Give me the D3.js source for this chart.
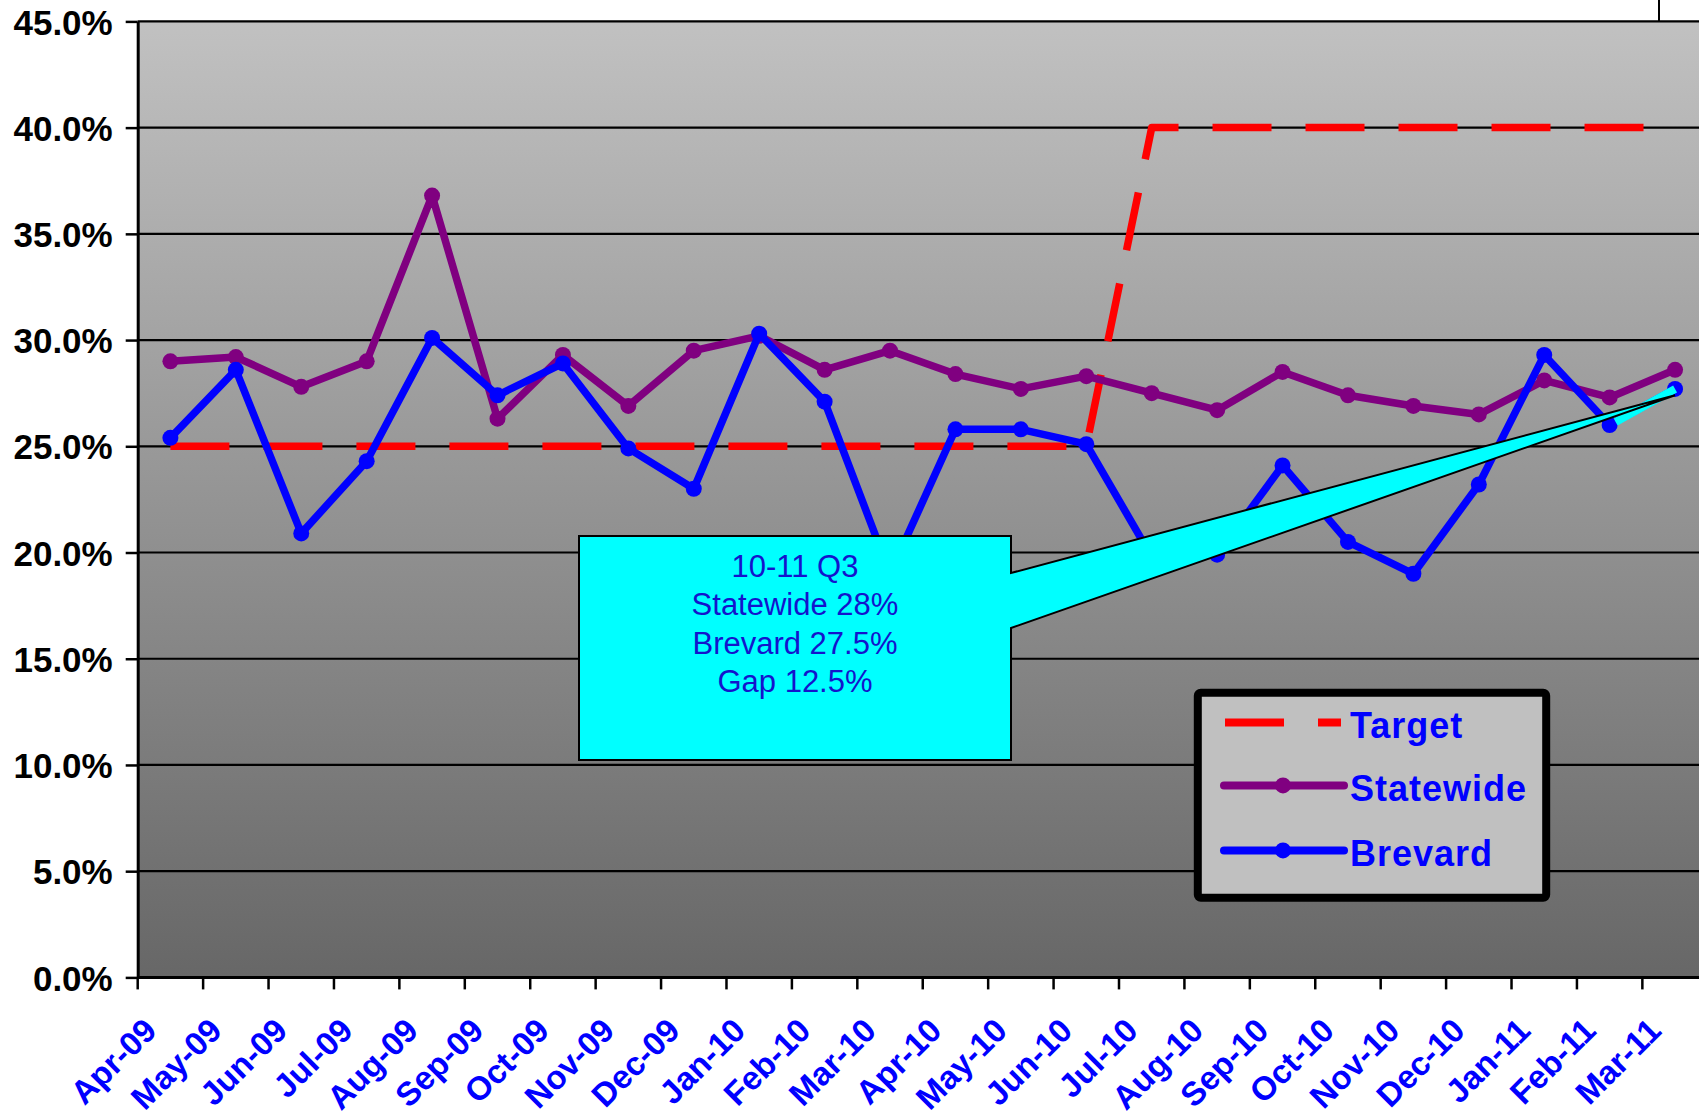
<!DOCTYPE html>
<html>
<head>
<meta charset="utf-8">
<script src="https://cdn.jsdelivr.net/npm/d3@7"></script>
<style>
  html, body { margin: 0; padding: 0; background: #fff; overflow: hidden; }
  #chart { width: 1699px; height: 1116px; }
  text { font-family: "Liberation Sans", Arial, sans-serif; }
</style>
</head>
<body>
<div id="chart"></div>
<script>
// --- data (percent values) ---
const months = ["Apr-09", "May-09", "Jun-09", "Jul-09", "Aug-09", "Sep-09", "Oct-09", "Nov-09",
  "Dec-09", "Jan-10", "Feb-10", "Mar-10", "Apr-10", "May-10", "Jun-10", "Jul-10",
  "Aug-10", "Sep-10", "Oct-10", "Nov-10", "Dec-10", "Jan-11", "Feb-11", "Mar-11"];

const target = [25, 25, 25, 25, 25, 25, 25, 25, 25, 25, 25, 25, 25, 25, 25,
  40, 40, 40, 40, 40, 40, 40, 40, 40];

const statewide = [29.0, 29.2, 27.8, 29.0, 36.8, 26.3, 29.3, 26.9, 29.5, 30.2, 28.6, 29.5,
  28.4, 27.7, 28.3, 27.5, 26.7, 28.5, 27.4, 26.9, 26.5, 28.1, 27.3, 28.6];

const brevard = [25.4, 28.6, 20.9, 24.3, 30.1, 27.4, 28.9, 24.9, 23.0, 30.3, 27.1, 19.0,
  25.8, 25.8, 25.1, 19.8, 19.9, 24.1, 20.5, 19.0, 23.2, 29.3, 26.0, 27.7];

const yTicks = [0, 5, 10, 15, 20, 25, 30, 35, 40, 45];

const calloutLines = ["10-11 Q3", "Statewide 28%", "Brevard 27.5%", "Gap 12.5%"];
const calloutTip = { month: "Mar-11", value: 27.4 };

const seriesList = [
  { name: "Target", values: target, color: "#ff0000", dash: "59,34", marker: false },
  { name: "Statewide", values: statewide, color: "#800080", dash: null, marker: true },
  { name: "Brevard", values: brevard, color: "#0000ff", dash: null, marker: true }
];

// --- layout ---
const W = 1699, H = 1116;
const m = { left: 137.7, top: 21.4 };
const step = 65.42;                 // width of one month band
const iW = step * months.length;    // plot runs past the right edge of the picture
const iH = 956;

const svg = d3.select("#chart").append("svg")
  .attr("width", W)
  .attr("height", H);

const defs = svg.append("defs");
const grad = defs.append("linearGradient")
  .attr("id", "plotBg")
  .attr("x1", 0).attr("y1", 0).attr("x2", 0).attr("y2", 1);
grad.append("stop").attr("offset", "0%").attr("stop-color", "#c1c1c1");
grad.append("stop").attr("offset", "100%").attr("stop-color", "#676767");

// stray frame line above the plot (part of the original picture)
svg.append("line")
  .attr("x1", 1659).attr("x2", 1659)
  .attr("y1", 0).attr("y2", m.top)
  .attr("stroke", "#000").attr("stroke-width", 2);

const g = svg.append("g").attr("transform", `translate(${m.left},${m.top})`);

const x = d3.scaleBand().domain(months).range([0, iW]);
const y = d3.scaleLinear().domain([0, 45]).range([iH, 0]);
const cx = d => x(d) + x.bandwidth() / 2;

g.append("rect")
  .attr("width", iW).attr("height", iH)
  .attr("fill", "url(#plotBg)");

// gridlines
g.append("g").selectAll("line")
  .data(yTicks.filter(d => d > 0))
  .join("line")
  .attr("x1", 0).attr("x2", iW)
  .attr("y1", d => y(d)).attr("y2", d => y(d))
  .attr("stroke", "#000")
  .attr("stroke-width", 2.2);

// y axis
const yAxis = d3.axisLeft(y)
  .tickValues(yTicks)
  .tickSize(12)
  .tickSizeOuter(0)
  .tickPadding(13)
  .tickFormat(d => d.toFixed(1) + "%");

const yAxisG = g.append("g").call(yAxis);
yAxisG.select(".domain").attr("stroke", "#000").attr("stroke-width", 3);
yAxisG.selectAll(".tick line").attr("stroke", "#000").attr("stroke-width", 2.5);
yAxisG.selectAll(".tick text")
  .attr("fill", "#000")
  .attr("dy", "0.36em")
  .style("font-family", "'Liberation Sans', Arial, sans-serif")
  .style("font-size", "35px")
  .style("font-weight", "bold");

// x axis: baseline, ticks on band edges, rotated labels
g.append("line")
  .attr("x1", 0).attr("x2", iW)
  .attr("y1", iH).attr("y2", iH)
  .attr("stroke", "#000").attr("stroke-width", 3);

g.append("g").selectAll("line")
  .data(months)
  .join("line")
  .attr("x1", d => x(d)).attr("x2", d => x(d))
  .attr("y1", iH).attr("y2", iH + 12)
  .attr("stroke", "#000").attr("stroke-width", 2.5);

g.append("g").selectAll("text")
  .data(months)
  .join("text")
  .attr("transform", d => `translate(${cx(d) - 12},${iH + 55}) rotate(-45)`)
  .attr("text-anchor", "end")
  .attr("fill", "#0000ff")
  .style("font-size", "33px")
  .style("font-weight", "bold")
  .text(d => d);

// --- series ---
const lineGen = d3.line()
  .x((d, i) => cx(months[i]))
  .y(d => y(d));

seriesList.forEach(s => {
  const sg = g.append("g").attr("class", "series-" + s.name);
  sg.append("path")
    .datum(s.values)
    .attr("d", lineGen)
    .attr("fill", "none")
    .attr("stroke", s.color)
    .attr("stroke-width", 7.5)
    .attr("stroke-linejoin", "round")
    .attr("stroke-dasharray", s.dash);

  if (s.marker) {
    sg.selectAll("circle")
      .data(s.values)
      .join("circle")
      .attr("cx", (d, i) => cx(months[i]))
      .attr("cy", d => y(d))
      .attr("r", 8)
      .attr("fill", s.color);
  }
});

// --- callout box with pointer ---
const box = { x: 579 - m.left, y: 536 - m.top, w: 432, h: 224 };
const attachTop = 573 - m.top, attachBottom = 628 - m.top;
const tipX = cx(calloutTip.month), tipY = y(calloutTip.value);

const cg = g.append("g").attr("class", "callout");

// the pointer fill also washes over the last Brevard segment
const n = brevard.length;
cg.append("line")
  .attr("x1", cx(months[n - 2]) + 6).attr("y1", y(brevard[n - 2]) - 3)
  .attr("x2", tipX).attr("y2", y(brevard[n - 1]))
  .attr("stroke", "#00ffff")
  .attr("stroke-width", 8);

const bx2 = box.x + box.w;
const calloutPath = [
  [box.x, box.y], [bx2, box.y], [bx2, attachTop], [tipX, tipY],
  [bx2, attachBottom], [bx2, box.y + box.h], [box.x, box.y + box.h]
];
cg.append("path")
  .attr("d", d3.line()(calloutPath) + "Z")
  .attr("fill", "#00ffff")
  .attr("stroke", "#000")
  .attr("stroke-width", 2)
  .attr("stroke-linejoin", "miter");

cg.selectAll("text")
  .data(calloutLines)
  .join("text")
  .attr("x", box.x + box.w / 2)
  .attr("y", (d, i) => box.y + 41 + i * 38.3)
  .attr("text-anchor", "middle")
  .attr("fill", "#1414cc")
  .style("font-size", "31px")
  .text(d => d);

// --- legend ---
const lg = svg.append("g").attr("class", "legend");
lg.append("rect")
  .attr("x", 1197.8).attr("y", 692.8)
  .attr("width", 348.4).attr("height", 205)
  .attr("rx", 3)
  .attr("fill", "#c0c0c0")
  .attr("stroke", "#000")
  .attr("stroke-width", 8);

const legendRows = [722.6, 785.4, 850.4];
seriesList.forEach((s, i) => {
  const ly = legendRows[i];
  lg.append("line")
    .attr("x1", s.marker ? 1224 : 1225).attr("x2", s.marker ? 1344 : 1341)
    .attr("y1", ly).attr("y2", ly)
    .attr("stroke", s.color)
    .attr("stroke-width", 8)
    .attr("stroke-linecap", s.marker ? "round" : "butt")
    .attr("stroke-dasharray", s.dash);
  if (s.marker) {
    lg.append("circle")
      .attr("cx", 1283).attr("cy", ly)
      .attr("r", 8)
      .attr("fill", s.color);
  }
  lg.append("text")
    .attr("x", 1350)
    .attr("y", ly + 15.5)
    .attr("fill", "#0000ff")
    .style("font-size", "36px")
    .style("font-weight", "bold")
    .style("letter-spacing", "1px")
    .text(s.name);
});
</script>
</body>
</html>
